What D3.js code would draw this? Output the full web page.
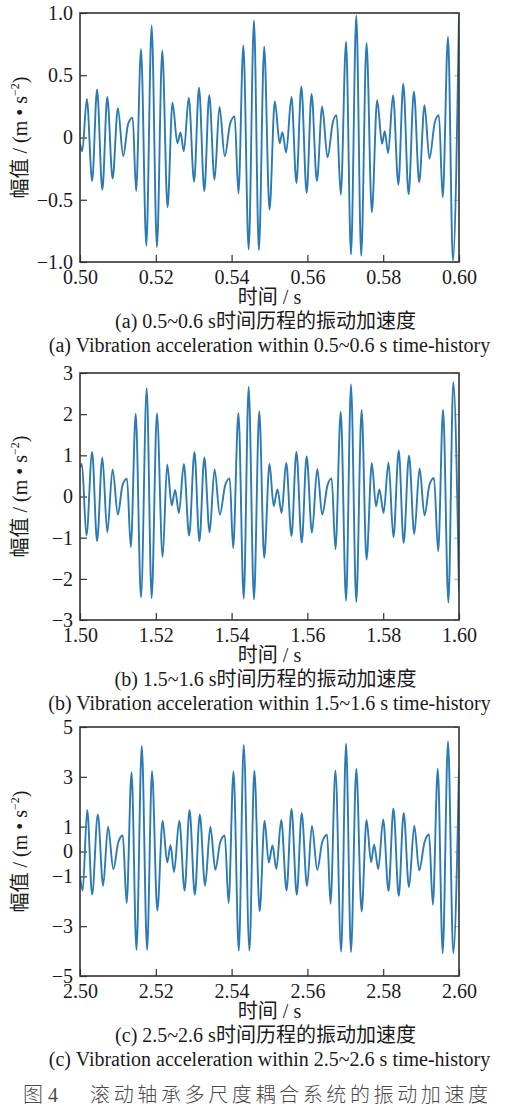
<!DOCTYPE html>
<html>
<head>
<meta charset="utf-8">
<script src="https://cdn.jsdelivr.net/npm/d3@7"></script>
<style>
body { margin: 0; background: #fff; }
text { font-family: "Liberation Serif", "Times New Roman", "Noto Sans CJK SC", serif; fill: #1a1a1a; }
</style>
</head>
<body>
<script>
// extrema (time in s, acceleration in m/s^2)
const t1 = [0.5000,0.5006,0.5018,0.5032,0.5045,0.5059,0.5072,0.5086,0.5100,0.5114,0.5127,0.5139,0.5148,0.5161,0.5175,0.5189,0.5203,0.5217,0.5231,0.5244,0.5257,0.5265,0.5274,0.5287,0.5301,0.5314,0.5328,0.5341,0.5355,0.5368,0.5382,0.5396,0.5408,0.5418,0.5431,0.5445,0.5459,0.5472,0.5486,0.5500,0.5514,0.5527,0.5534,0.5544,0.5558,0.5571,0.5584,0.5598,0.5611,0.5625,0.5639,0.5653,0.5667,0.5677,0.5688,0.5702,0.5715,0.5729,0.5742,0.5756,0.5770,0.5784,0.5797,0.5804,0.5813,0.5826,0.5840,0.5853,0.5867,0.5881,0.5895,0.5909,0.5922,0.5936,0.5947,0.5957,0.5971,0.5984,0.6000]
const a1 = [-0.05,-0.11,0.31,-0.35,0.385,-0.42,0.325,-0.33,0.236,-0.15,0.11,0.16,-0.43,0.71,-0.87,0.90,-0.88,0.70,-0.56,0.28,-0.046,0.04,-0.11,0.32,-0.355,0.40,-0.43,0.34,-0.34,0.245,-0.15,0.11,0.17,-0.45,0.74,-0.90,0.94,-0.905,0.73,-0.58,0.29,-0.046,0.043,-0.12,0.325,-0.365,0.41,-0.445,0.35,-0.35,0.25,-0.16,0.12,0.18,-0.46,0.77,-0.94,0.98,-0.95,0.76,-0.60,0.30,-0.05,0.05,-0.125,0.34,-0.38,0.43,-0.455,0.37,-0.36,0.26,-0.17,0.12,0.18,-0.48,0.81,-0.99,0.98]

const t2 = [1.5000,1.5005,1.5017,1.5032,1.5045,1.5059,1.5072,1.5086,1.5100,1.5112,1.5124,1.5134,1.5147,1.5161,1.5176,1.5189,1.5203,1.5218,1.5230,1.5242,1.5251,1.5261,1.5274,1.5288,1.5302,1.5315,1.5328,1.5342,1.5355,1.5369,1.5383,1.5395,1.5404,1.5418,1.5432,1.5445,1.5459,1.5473,1.5486,1.5500,1.5511,1.5521,1.5532,1.5544,1.5558,1.5571,1.5585,1.5598,1.5612,1.5626,1.5639,1.5653,1.5664,1.5674,1.5688,1.5702,1.5715,1.5729,1.5743,1.5756,1.5770,1.5781,1.5790,1.5801,1.5814,1.5827,1.5841,1.5854,1.5868,1.5882,1.5896,1.5909,1.5922,1.5934,1.5945,1.5958,1.5972,1.5985,1.6000]
const a2 = [0.70,0.79,-0.95,1.08,-1.09,0.95,-0.87,0.66,-0.44,0.27,0.43,-1.23,2.01,-2.45,2.63,-2.47,2.02,-1.47,0.78,-0.22,0.16,-0.40,0.79,-0.95,1.08,-1.09,0.95,-0.87,0.66,-0.44,0.27,0.44,-1.25,2.03,-2.48,2.67,-2.50,2.07,-1.49,0.79,-0.23,0.17,-0.40,0.82,-0.96,1.09,-1.12,0.98,-0.88,0.67,-0.44,0.27,0.44,-1.28,2.06,-2.53,2.72,-2.56,2.10,-1.53,0.81,-0.24,0.17,-0.40,0.83,-0.99,1.12,-1.13,1.00,-0.91,0.68,-0.46,0.28,0.45,-1.33,2.11,-2.58,2.78,-2.30]

const t3 = [2.5000,2.5007,2.5019,2.5032,2.5047,2.5061,2.5074,2.5088,2.5101,2.5113,2.5123,2.5136,2.5149,2.5163,2.5177,2.5190,2.5204,2.5218,2.5230,2.5239,2.5248,2.5262,2.5276,2.5289,2.5303,2.5316,2.5330,2.5344,2.5357,2.5370,2.5382,2.5392,2.5405,2.5419,2.5432,2.5447,2.5460,2.5474,2.5487,2.5498,2.5508,2.5518,2.5531,2.5545,2.5558,2.5572,2.5585,2.5599,2.5612,2.5626,2.5639,2.5652,2.5661,2.5674,2.5689,2.5702,2.5715,2.5729,2.5743,2.5756,2.5768,2.5776,2.5787,2.5800,2.5814,2.5827,2.5841,2.5854,2.5868,2.5882,2.5895,2.5909,2.5921,2.5931,2.5944,2.5957,2.5971,2.5985,2.6000]
const a3 = [-1.0,-1.57,1.67,-1.73,1.49,-1.37,1.00,-0.71,0.37,0.64,-2.07,3.18,-3.95,4.24,-3.95,3.22,-2.37,1.24,-0.44,0.25,-0.83,1.24,-1.57,1.67,-1.74,1.49,-1.37,1.00,-0.73,0.37,0.64,-2.07,3.21,-3.98,4.28,-3.98,3.25,-2.40,1.24,-0.44,0.24,-0.70,1.27,-1.57,1.71,-1.74,1.54,-1.39,1.03,-0.74,0.37,0.67,-2.10,3.25,-4.02,4.33,-4.04,3.32,-2.41,1.27,-0.43,0.27,-0.71,1.29,-1.59,1.73,-1.79,1.55,-1.43,1.04,-0.76,0.37,0.68,-2.14,3.32,-4.08,4.42,-4.08,3.30]

// tick labels
const xTicks1 = [0.50,0.52,0.54,0.56,0.58,0.60]
const xLabels1 = ["0.50","0.52","0.54","0.56","0.58","0.60"]
const yTicks1 = [1.0,0.5,0,-0.5,-1.0]
const yLabels1 = ["1.0","0.5","0","\u22120.5","\u22121.0"]
const xTicks2 = [1.50,1.52,1.54,1.56,1.58,1.60]
const xLabels2 = ["1.50","1.52","1.54","1.56","1.58","1.60"]
const yTicks2 = [3,2,1,0,-1,-2,-3]
const yLabels2 = ["3","2","1","0","\u22121","\u22122","\u22123"]
const xTicks3 = [2.50,2.52,2.54,2.56,2.58,2.60]
const xLabels3 = ["2.50","2.52","2.54","2.56","2.58","2.60"]
const yTicks3 = [5,3,1,0,-1,-3,-5]
const yLabels3 = ["5","3","1","0","\u22121","\u22123","\u22125"]

const capsZh = ["(a) 0.5~0.6 s时间历程的振动加速度","(b) 1.5~1.6 s时间历程的振动加速度","(c) 2.5~2.6 s时间历程的振动加速度"]
const capsEn = ["(a) Vibration acceleration within 0.5~0.6 s time-history","(b) Vibration acceleration within 1.5~1.6 s time-history","(c) Vibration acceleration within 2.5~2.6 s time-history"]

width = 507
height = 1108
left = 80
right = 459
mid = (left + right) / 2

svg = d3.select("body")
    .append("svg")
    .attr("width", width)
    .attr("height", height)

svg.append("rect").attr("width", width).attr("height", height).attr("fill", "#fff")

function panel(n, top, bottom, ts, vals, xTicks, xLabels, yTicks, yLabels, yMax) {
    let x = d3.scaleLinear().domain([xTicks[0], xTicks[xTicks.length-1]]).range([left, right])
    let y = d3.scaleLinear().domain([-yMax, yMax]).range([bottom, top])
    let g = svg.append("g").attr("id", "panel" + n)

    g.append("clipPath").attr("id", "clip" + n)
      .append("rect").attr("x", left).attr("y", top - 2).attr("width", right - left).attr("height", bottom - top + 4)

    // bottom axis, ticks pointing in
    g.append("g")
      .attr("transform", "translate(0," + bottom + ")")
      .call(d3.axisBottom(x).tickValues(xTicks).tickFormat((d, i) => xLabels[i])
            .tickSizeInner(-7).tickSizeOuter(0).tickPadding(8))
      .call(a => a.select(".domain").remove())
      .call(a => a.selectAll("line").attr("stroke", "#333").attr("stroke-width", 1.2))
      .call(a => a.selectAll("text").attr("font-size", 20).attr("fill", "#1a1a1a")
            .attr("font-family", "Liberation Serif, serif"))

    g.append("g")
      .attr("transform", "translate(" + left + ",0)")
      .call(d3.axisLeft(y).tickValues(yTicks).tickFormat((d, i) => yLabels[i])
            .tickSizeInner(-7).tickSizeOuter(0).tickPadding(7))
      .call(a => a.select(".domain").remove())
      .call(a => a.selectAll("line").attr("stroke", "#333").attr("stroke-width", 1.2))
      .call(a => a.selectAll("text").attr("font-size", 20).attr("fill", "#1a1a1a")
            .attr("font-family", "Liberation Serif, serif"))

    // faint ticks on the right side
    g.append("g")
      .attr("transform", "translate(" + right + ",0)")
      .call(d3.axisRight(y).tickValues(yTicks).tickFormat("").tickSizeInner(-5).tickSizeOuter(0))
      .call(a => a.select(".domain").remove())
      .call(a => a.selectAll("line").attr("stroke", "#aaa"))

    let line = d3.line()
      .x(i => x(ts[i]))
      .y(i => y(vals[i]))
      .curve(d3.curveMonotoneX)

    g.append("path")
      .datum(d3.range(ts.length))
      .attr("clip-path", "url(#clip" + n + ")")
      .attr("d", line)
      .attr("fill", "none")
      .attr("stroke", "#2c7ab3")
      .attr("stroke-width", 1.9)
      .attr("stroke-linejoin", "round")

    g.append("rect")
      .attr("x", left).attr("y", top)
      .attr("width", right - left).attr("height", bottom - top)
      .attr("fill", "none").attr("stroke", "#333").attr("stroke-width", 1.6)

    // y label
    let yl = g.append("text")
      .attr("transform", "translate(27," + ((top + bottom) / 2) + ") rotate(-90)")
      .attr("text-anchor", "middle")
      .attr("font-size", 20)
    yl.append("tspan").text("幅值 / (m • s")
    yl.append("tspan").attr("dy", -8).attr("font-size", 12).text("\u22122")
    yl.append("tspan").attr("dy", 8).text(")")

    g.append("text").attr("x", mid).attr("y", bottom + 42).attr("text-anchor", "middle")
      .attr("font-size", 20).text("时间 / s")
    g.append("text").attr("x", mid - 4).attr("y", bottom + 66).attr("text-anchor", "middle")
      .attr("font-size", 20).text(capsZh[n-1])
    g.append("text").attr("x", mid).attr("y", bottom + 90).attr("text-anchor", "middle")
      .attr("font-size", 20).text(capsEn[n-1])
}

panel(1, 13, 262, t1, a1, xTicks1, xLabels1, yTicks1, yLabels1, 1)
panel(2, 373, 620, t2, a2, xTicks2, xLabels2, yTicks2, yLabels2, 3)
panel(3, 727, 976, t3, a3, xTicks3, xLabels3, yTicks3, yLabels3, 5)

// figure caption
let fc = svg.append("text").attr("y", 1102).attr("font-size", 20)
  .style("fill", "#4a4a4a").attr("font-weight", 300)
  .attr("font-family", "Noto Sans CJK SC, sans-serif")
fc.append("tspan").attr("x", 23).text("图 4")
fc.append("tspan").attr("x", 90).attr("textLength", 398).attr("lengthAdjust", "spacing")
  .text("滚动轴承多尺度耦合系统的振动加速度")
</script>
</body>
</html>
